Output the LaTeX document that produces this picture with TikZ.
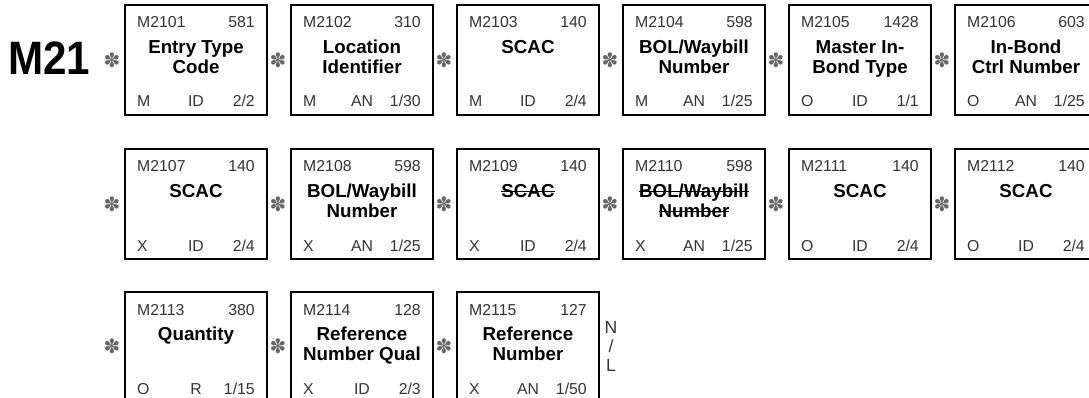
\documentclass[tikz,border=0pt]{standalone}
\usepackage{fontspec}
\setmainfont{Liberation Sans}
\newfontfamily\symfont{DejaVu Sans}
\newfontfamily\segfont[FakeStretch=0.9]{Liberation Sans}
\usepackage{tikz}
\usetikzlibrary{
    positioning
}

% struck-out title text
\newsavebox{\strkbox}
\newcommand{\strk}[1]{\sbox{\strkbox}{#1}\rlap{\rule[0.32em]{\wd\strkbox}{1.1pt}}\usebox{\strkbox}}

% one element box: name, x, y, ref, number, title, req, type, length
\newcommand{\segfield}[9]{%
    \node[fieldbox] (#1) at (#2,#3) {};
    \draw[boxedge] (#1.north west) -- (#1.south west) -- (#1.south east);
    \node[small, anchor=base west] (#1ref) at ({#2+12},{#3+23}) {#4};
    \node[small, anchor=base east] (#1num) at ({#2+130},{#3+23}) {#5};
    \node[title, anchor=north] (#1name) at ({#2+71},{#3+34}) {\rule{0pt}{12.5pt}#6};
    \node[small, anchor=base west] (#1req) at ({#2+12},{#3+102}) {#7};
    \node[small, anchor=base] (#1type) at ({#2+71},{#3+102}) {#8};
    \node[small, anchor=base east] (#1len) at ({#2+130},{#3+102}) {#9};
}

\begin{document}
\begin{tikzpicture}[
        x={(0.03cm,0)},
        y={(0,-0.03cm)},
        every node/.style={inner sep=0pt},
        fieldbox/.style={
            draw,
            anchor=north west,
            line width=1.2pt,
            outer sep=0pt,
            minimum width=4.26cm,
            minimum height=3.3cm
        },
        boxedge/.style={line width=2pt},
        small/.style={font=\fontsize{13.5}{15}\selectfont, text=black!80},
        title/.style={align=center, font=\bfseries\fontsize{16}{17}\selectfont},
        sep/.style={font=\symfont\fontsize{17}{19}\selectfont, text=black!60}
    ]
    \useasboundingbox (0,0) rectangle (1089,398);
    \clip (0,0) rectangle (1089,398);

    \node[anchor=base west, font=\segfont\bfseries\fontsize{40}{44}\selectfont] (seg) at (8,75) {M21};

    % first row
    \node[sep] (s1) at (112,60) {✽};
    \segfield{f1}{125}{5}{M2101}{581}{Entry Type\\Code}{M}{ID}{2/2}
    \node[sep] (s2) at (278,60) {✽};
    \segfield{f2}{291}{5}{M2102}{310}{Location\\Identifier}{M}{AN}{1/30}
    \node[sep] (s3) at (444,60) {✽};
    \segfield{f3}{457}{5}{M2103}{140}{SCAC}{M}{ID}{2/4}
    \node[sep] (s4) at (610,60) {✽};
    \segfield{f4}{623}{5}{M2104}{598}{BOL/Waybill\\Number}{M}{AN}{1/25}
    \node[sep] (s5) at (776,60) {✽};
    \segfield{f5}{789}{5}{M2105}{1428}{Master In-\\Bond Type}{O}{ID}{1/1}
    \node[sep] (s6) at (942,60) {✽};
    \segfield{f6}{955}{5}{M2106}{603}{In-Bond\\Ctrl Number}{O}{AN}{1/25}

    % second row
    \node[sep] (s7) at (112,204) {✽};
    \segfield{f7}{125}{149}{M2107}{140}{SCAC}{X}{ID}{2/4}
    \node[sep] (s8) at (278,204) {✽};
    \segfield{f8}{291}{149}{M2108}{598}{BOL/Waybill\\Number}{X}{AN}{1/25}
    \node[sep] (s9) at (444,204) {✽};
    \segfield{f9}{457}{149}{M2109}{140}{\strk{SCAC}}{X}{ID}{2/4}
    \node[sep] (s10) at (610,204) {✽};
    \segfield{f10}{623}{149}{M2110}{598}{\strk{BOL/Waybill}\\\strk{Number}}{X}{AN}{1/25}
    \node[sep] (s11) at (776,204) {✽};
    \segfield{f11}{789}{149}{M2111}{140}{SCAC}{O}{ID}{2/4}
    \node[sep] (s12) at (942,204) {✽};
    \segfield{f12}{955}{149}{M2112}{140}{SCAC}{O}{ID}{2/4}

    % third row
    \node[sep] (s13) at (112,346) {✽};
    \segfield{f13}{125}{292}{M2113}{380}{Quantity}{O}{R}{1/15}
    \node[sep] (s14) at (278,346) {✽};
    \segfield{f14}{291}{292}{M2114}{128}{Reference\\Number Qual}{X}{ID}{2/3}
    \node[sep] (s15) at (444,346) {✽};
    \segfield{f15}{457}{292}{M2115}{127}{Reference\\Number}{X}{AN}{1/50}

    \node[anchor=north, align=center, font=\fontsize{15}{16.2}\selectfont, text=black!80] (nl) at (611,321) {N\\/\\L};
\end{tikzpicture}
\end{document}
